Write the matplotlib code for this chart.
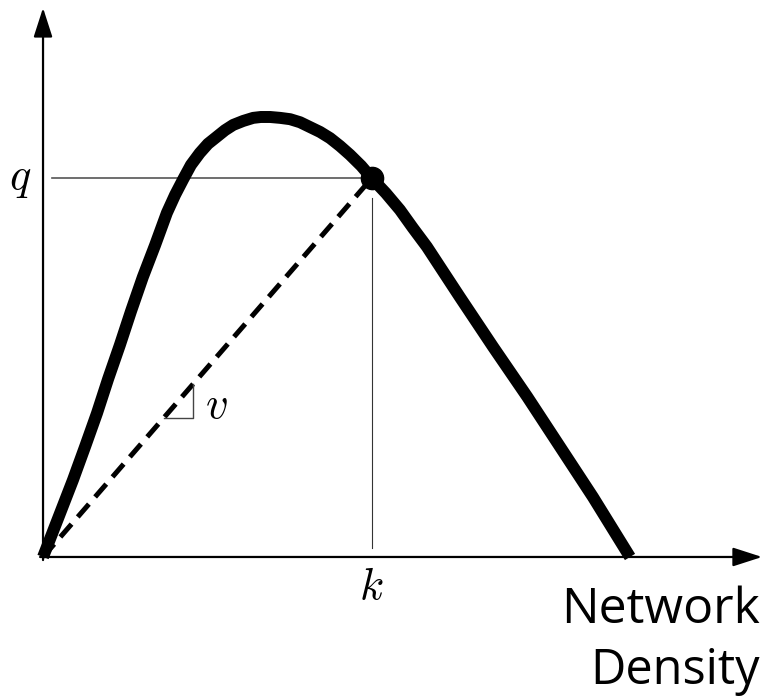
import matplotlib
matplotlib.use('Agg')
import matplotlib.pyplot as plt
import numpy as np

plt.rcParams['mathtext.fontset'] = 'cm'

# flow-density curve (density relative to jam density, flow relative to capacity)
density = [0.0, 0.026, 0.051, 0.072, 0.092, 0.111, 0.131, 0.150, 0.170, 0.191,
           0.211, 0.225, 0.239, 0.252, 0.267, 0.281, 0.296, 0.310, 0.324, 0.341,
           0.358, 0.371, 0.387, 0.404, 0.421, 0.438, 0.455, 0.472, 0.489, 0.506,
           0.523, 0.542, 0.560, 0.584, 0.608, 0.630, 0.654, 0.681, 0.710, 0.767,
           0.825, 0.881, 0.937, 1.0]
flow = [0.0, 0.089, 0.175, 0.252, 0.327, 0.405, 0.482, 0.559, 0.636, 0.709,
        0.782, 0.823, 0.859, 0.891, 0.918, 0.939, 0.955, 0.970, 0.982, 0.991,
        0.998, 1.000, 1.000, 0.998, 0.995, 0.988, 0.977, 0.966, 0.952, 0.934,
        0.914, 0.889, 0.861, 0.827, 0.789, 0.748, 0.705, 0.650, 0.591, 0.477,
        0.364, 0.250, 0.136, 0.0]

# operating point
k_op = 0.560
q_op = 0.861

fig = plt.figure(figsize=(7.65, 6.98), dpi=100)
ax = fig.add_axes([0, 0, 1, 1])
ax.set_xlim(-0.0733, 1.2300)
ax.set_ylim(-0.3205, 1.2659)
ax.axis('off')

# axes with arrow heads
arrow = dict(arrowstyle='-|>,head_length=1.8,head_width=0.58', mutation_scale=10,
             lw=1.6, color='black', shrinkA=0, shrinkB=0)
ax.annotate('', xy=(0, 1.248), xytext=(0, -0.007), arrowprops=arrow)
ax.annotate('', xy=(1.225, 0), xytext=(-0.005, 0), arrowprops=arrow)

# guide lines to q and k
ax.plot([0.015, 0.543], [q_op, q_op], color='#555555', lw=1.2)
ax.plot([k_op, k_op], [0.020, 0.816], color='#333333', lw=0.8)

# speed line from origin to the operating point
ax.plot([0, k_op], [0, q_op], color='black', lw=3.6,
        linestyle=(0, (3.4, 1.9)), dash_capstyle='butt')

# slope marker
v = q_op / k_op
xa, xb = 0.206, 0.256
ax.plot([xa, xb, xb], [v * xa, v * xa, v * xb], color='#444444', lw=1.0)

ax.plot(density, flow, color='black', lw=8.6, solid_capstyle='butt',
        solid_joinstyle='round')
ax.plot([k_op], [q_op], 'o', color='black', markersize=16)

ax.text(-0.039, q_op, r'$q$', fontsize=32, ha='center', va='center')
ax.text(k_op, -0.066, r'$k$', fontsize=32, ha='center', va='center')
ax.text(0.2947, 0.345, r'$v$', fontsize=32, ha='center', va='center')

ax.text(1.2215, -0.150, 'Network', fontsize=36, family='Open Sans',
        ha='right', va='baseline')
ax.text(1.2215, -0.289, 'Density', fontsize=35, family='Open Sans',
        ha='right', va='baseline')

plt.savefig('out.png', dpi=100)
